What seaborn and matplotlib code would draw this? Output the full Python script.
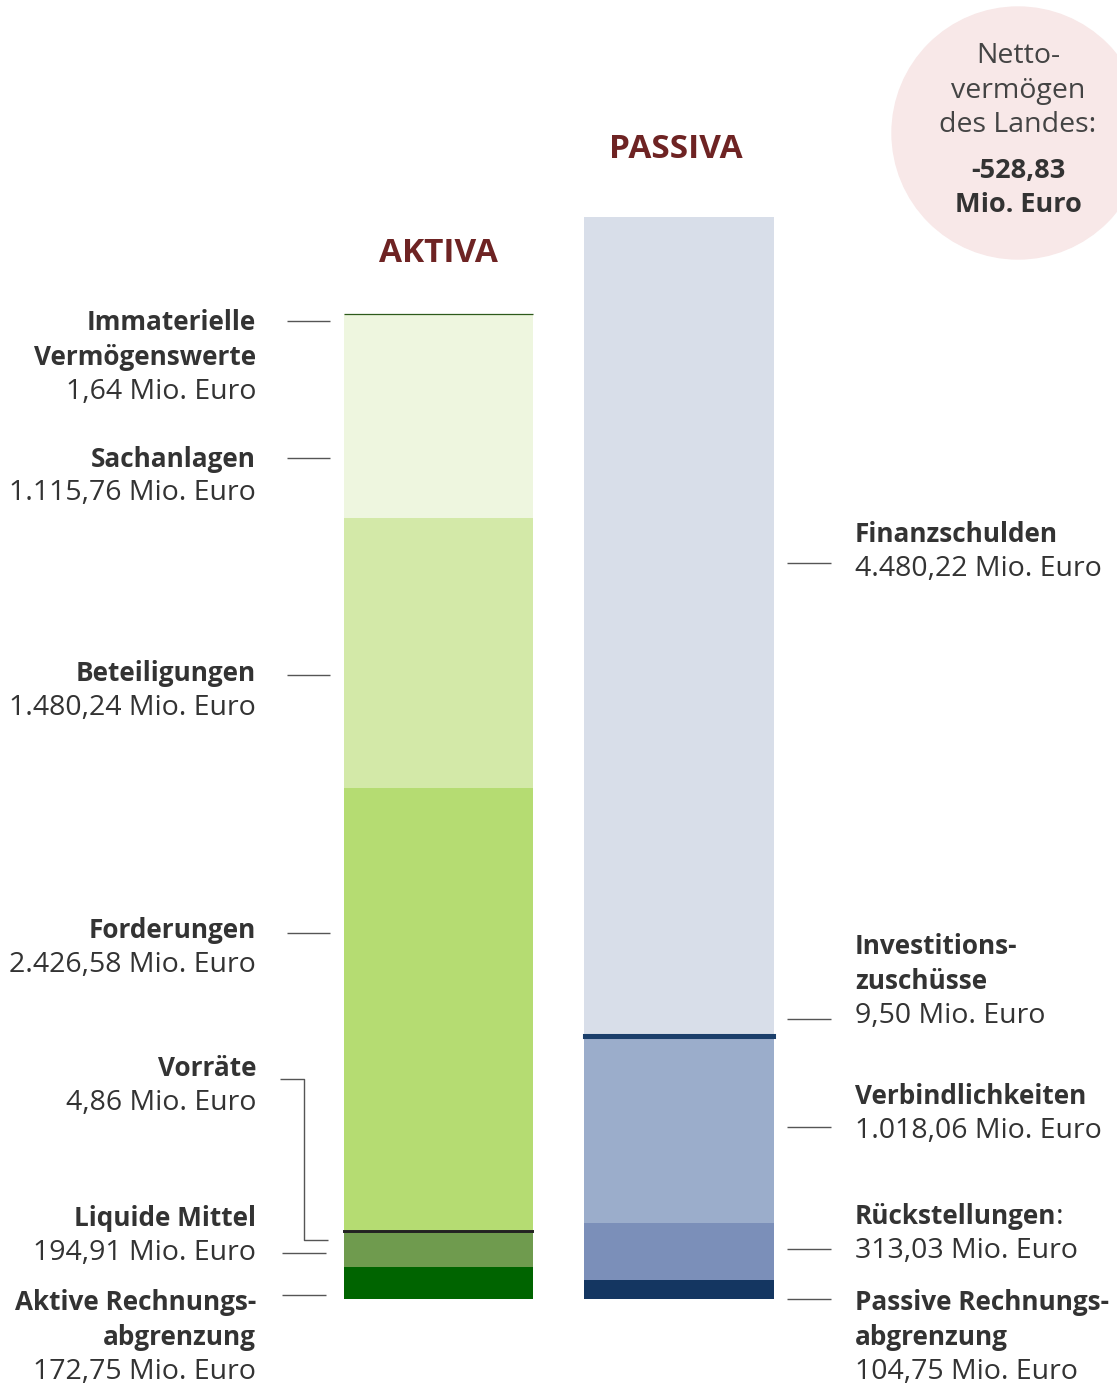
import matplotlib
matplotlib.use("Agg")
import matplotlib.pyplot as plt
from matplotlib.lines import Line2D
from matplotlib.patches import Ellipse
import seaborn as sns
import pandas as pd

# ---------------- data ----------------
sides = ["AKTIVA", "PASSIVA"]

aktiva_items = ["Aktive Rechnungsabgrenzung", "Liquide Mittel", "Vorräte",
                "Forderungen", "Beteiligungen", "Sachanlagen",
                "Immaterielle Vermögenswerte"]
aktiva_values = [172.75, 194.91, 4.86, 2426.58, 1480.24, 1115.76, 1.64]
aktiva_colors = ["#006400", "#6f9b4e", "#222222", "#b5dc72", "#d3e9a8",
                 "#eef6df", "#2d5a1b"]

passiva_items = ["Passive Rechnungsabgrenzung", "Rückstellungen",
                 "Verbindlichkeiten", "Investitionszuschüsse", "Finanzschulden"]
passiva_values = [104.75, 313.03, 1018.06, 9.50, 4480.22]
passiva_colors = ["#143661", "#7b8fb9", "#9badcb", "#1b3f6b", "#d8dee9"]

netto_label = "-528,83"

# ---------------- figure ----------------
W, H = 1117, 1386
sns.set_theme(style="white")
plt.rcParams["font.family"] = ["Open Sans", "DejaVu Sans"]

fig = plt.figure(figsize=(W / 100, H / 100), dpi=100)
ax = fig.add_axes([0, 0, 1, 1])

rows = []
for side, items, vals, cols in [("AKTIVA", aktiva_items, aktiva_values, aktiva_colors),
                                ("PASSIVA", passiva_items, passiva_values, passiva_colors)]:
    bottom = 0.0
    for it, v, c in zip(items, vals, cols):
        rows.append(dict(side=side, item=it, value=v, bottom=bottom, color=c))
        bottom += v
df = pd.DataFrame(rows)

thin = {"Vorräte": 1.4, "Immaterielle Vermögenswerte": 0.9, "Investitionszuschüsse": 2.2}
# normal segments first, thin segments on top
for flag in (False, True):
    for _, r in df.iterrows():
        if (r["item"] in thin) != flag:
            continue
        lw = thin.get(r["item"], 0)
        sns.barplot(x=[r["side"]], y=[r["value"]], order=sides, bottom=r["bottom"],
                    color=r["color"], width=0.786, ax=ax, saturation=1,
                    edgecolor=r["color"], linewidth=lw)

s = 0.1826  # px per Mio. Euro
base_from_bottom = H - 1299
ax.set_ylim(-base_from_bottom / s, (H - base_from_bottom) / s)
ax.set_xlim(-438.5 / 240.5, (W - 438.5) / 240.5)
ax.set_axis_off()

TXT = "#333333"
FS = 20.5
FSB = 18.8
DY = 2


def T(x, y, txt, bold=False, ha="left", color=TXT, size=None, **kw):
    if size is None:
        size = FSB if bold else FS
    return fig.text(x / W, 1 - (y + DY) / H, txt, ha=ha, va="center", color=color,
                    fontsize=size, fontweight="bold" if bold else "normal", **kw)


def L(xs, ys, color="#555555", lw=1.0):
    fig.add_artist(Line2D([x / W for x in xs], [1 - y / H for y in ys],
                          transform=fig.transFigure, color=color, lw=lw,
                          solid_capstyle="butt"))


# titles
T(438, 252, "AKTIVA", bold=True, ha="center", color="#6e2323", size=24)
T(676, 147, "PASSIVA", bold=True, ha="center", color="#6e2323", size=24)

# circle
fig.add_artist(Ellipse((1018 / W, 1 - 133 / H), 2 * 126 / W, 2 * 126 / H,
                       transform=fig.transFigure, color="#f8e8e8", zorder=0))
T(1018, 54, "Netto-", ha="center", color="#444444")
T(1018, 89, "vermögen", ha="center", color="#444444")
T(1018, 123, "des Landes:", ha="center", color="#444444")
T(1018, 169, netto_label, bold=True, ha="center", size=19.5)
T(1018, 203, "Mio. Euro", bold=True, ha="center", size=19.5)

# left labels
XR = 256
left = [
    ([("Immaterielle", True), ("Vermögenswerte", True), ("1,64 Mio. Euro", False)], 321),
    ([("Sachanlagen", True), ("1.115,76 Mio. Euro", False)], 457),
    ([("Beteiligungen", True), ("1.480,24 Mio. Euro", False)], 672),
    ([("Forderungen", True), ("2.426,58 Mio. Euro", False)], 929),
    ([("Vorräte", True), ("4,86 Mio. Euro", False)], 1067),
    ([("Liquide Mittel", True), ("194,91 Mio. Euro", False)], 1217),
    ([("Aktive Rechnungs-", True), ("abgrenzung", True), ("172,75 Mio. Euro", False)], 1301),
]
for lines, y0 in left:
    for i, (t, b) in enumerate(lines):
        T(XR, y0 + i * 34.3, t, bold=b, ha="right")

L([287, 330], [321, 321])
L([287, 330], [458, 458])
L([287, 330], [675, 675])
L([287, 330], [933, 933])
L([280, 304, 304, 328], [1079, 1079, 1240, 1240])
L([282, 326], [1253, 1253])
L([282, 326], [1295, 1295])

# right labels
XL = 855
right = [
    ([("Finanzschulden", True), ("4.480,22 Mio. Euro", False)], 533),
    ([("Investitions-", True), ("zuschüsse", True), ("9,50 Mio. Euro", False)], 945),
    ([("Verbindlichkeiten", True), ("1.018,06 Mio. Euro", False)], 1095),
    ([("Rückstellungen", True), ("313,03 Mio. Euro", False)], 1215),
    ([("Passive Rechnungs-", True), ("abgrenzung", True), ("104,75 Mio. Euro", False)], 1301),
]
renderer = fig.canvas.get_renderer()
for lines, y0 in right:
    for i, (t, b) in enumerate(lines):
        txt = T(XL, y0 + i * 34.3, t, bold=b, ha="left")
        if t == "Rückstellungen":
            bb = txt.get_window_extent(renderer=renderer)
            T(bb.x1, y0, ":", ha="left")

L([787, 831], [563, 563])
L([787, 831], [1019, 1019])
L([787, 831], [1127, 1127])
L([787, 831], [1249, 1249])
L([787, 831], [1299, 1299])

fig.savefig("out.png", dpi=100, facecolor="white")
